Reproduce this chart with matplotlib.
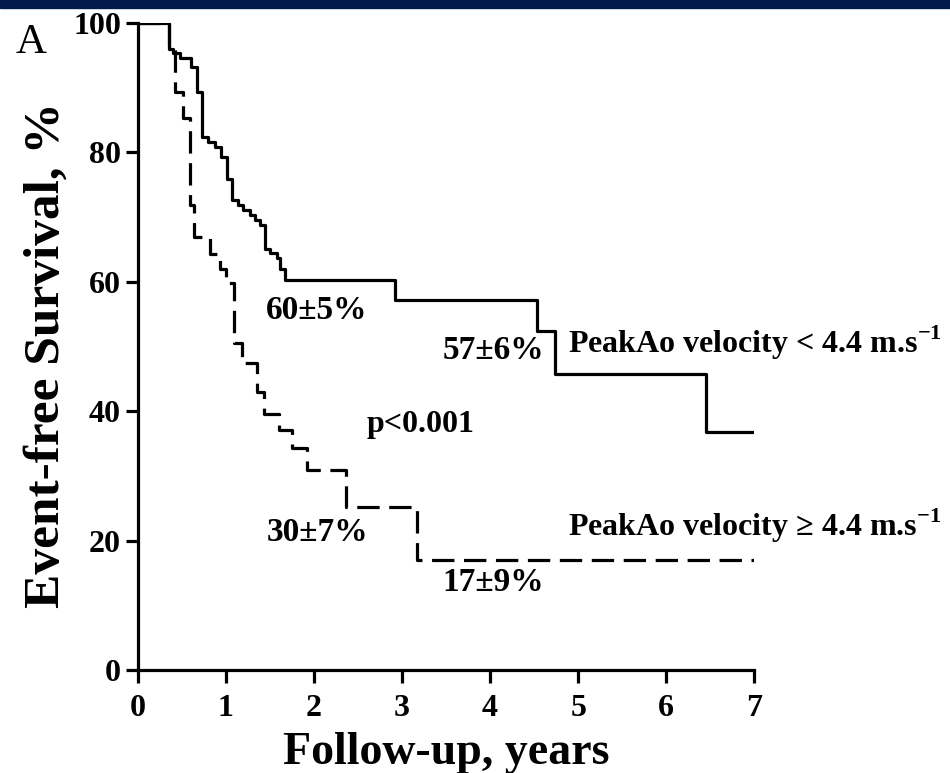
import numpy as np
import matplotlib
matplotlib.use('Agg')
import matplotlib.pyplot as plt

plt.rcParams['font.family'] = ['Liberation Serif', 'DejaVu Serif']
plt.rcParams['mathtext.fontset'] = 'custom'
plt.rcParams['mathtext.rm'] = 'Liberation Serif'
plt.rcParams['mathtext.bf'] = 'Liberation Serif:bold'

# Kaplan-Meier steps (years, % event-free)
low_t = [0, 0.35, 0.40, 0.48, 0.61, 0.67, 0.73, 0.80, 0.88, 0.94, 1.01, 1.07, 1.14,
         1.20, 1.28, 1.33, 1.39, 1.45, 1.50, 1.58, 1.62, 1.67, 2.92, 4.53, 4.74, 6.45, 7.0]
low_s = [100, 96.0, 95.3, 94.5, 93.2, 89.3, 82.4, 81.6, 80.8, 79.3, 75.9, 72.6, 71.8,
         71.0, 70.3, 69.5, 68.7, 65.1, 64.4, 63.6, 62.0, 60.2, 57.2, 52.4, 45.8, 36.7, 36.7]

high_t = [0, 0.35, 0.42, 0.51, 0.59, 0.64, 0.82, 0.93, 1.00, 1.09, 1.18, 1.35, 1.43,
          1.60, 1.75, 1.92, 2.36, 3.17, 7.0]
high_s = [100, 96.0, 89.3, 85.3, 71.8, 66.9, 64.2, 62.0, 59.8, 50.5, 47.4, 43.0, 39.6,
          37.1, 34.3, 30.9, 25.2, 17.0, 17.0]

xticks = [0, 1, 2, 3, 4, 5, 6, 7]
yticks = [0, 20, 40, 60, 80, 100]

fig = plt.figure(figsize=(9.5, 7.73), dpi=100)
ax = fig.add_axes([0.145, 0.1332, 0.649, 0.8374])

ax.plot(low_t, low_s, drawstyle='steps-post', color='black', linewidth=2.3)
ax.plot(high_t, high_s, drawstyle='steps-post', color='black', linewidth=2.3,
        dashes=(7, 3))

ax.set_xlim(0, 7)
ax.set_ylim(0, 100)
ax.set_xticks(xticks)
ax.set_yticks(yticks)
ax.spines['top'].set_visible(False)
ax.spines['right'].set_visible(False)
ax.spines['left'].set_linewidth(2.3)
ax.spines['bottom'].set_linewidth(2.3)
ax.tick_params(direction='out', length=9, width=2.3, labelsize=23)
ax.tick_params(axis='x', pad=8)
ax.tick_params(axis='y', pad=3)
for lab in ax.get_xticklabels() + ax.get_yticklabels():
    lab.set_fontweight('bold')

ax.set_xlabel('Follow-up, years', fontsize=33, fontweight='bold')
ax.xaxis.set_label_coords(0.50, -0.095)
ax.set_ylabel('Event-free Survival, %', fontsize=37, fontweight='bold')
ax.yaxis.set_label_coords(-0.110, 0.487)

pct = dict(fontsize=24, fontweight='bold', va='center', ha='left')
lab = dict(fontsize=23, fontweight='bold', va='center', ha='left')
ax.text(1.46, 55.5, '60±5%', **pct)
ax.text(3.46, 49.4, '57±6%', **pct)
ax.text(4.88, 50.5, r'PeakAo velocity < 4.4 m.s$^{\mathbf{-1}}$', **lab)
ax.text(2.60, 38.0, 'p<0.001', **lab)
ax.text(1.46, 21.3, '30±7%', **pct)
ax.text(4.88, 22.3, r'PeakAo velocity ≥ 4.4 m.s$^{\mathbf{-1}}$', **lab)
ax.text(3.46, 13.6, '17±9%', **pct)

fig.text(0.016, 0.945, 'A', fontsize=31, va='center', ha='left')

# dark band along the top edge
fig.patches.append(plt.Rectangle((0, 0.99), 1, 0.01, transform=fig.transFigure,
                                 color='#001a4d', zorder=0))

plt.savefig('out.png', dpi=100)
